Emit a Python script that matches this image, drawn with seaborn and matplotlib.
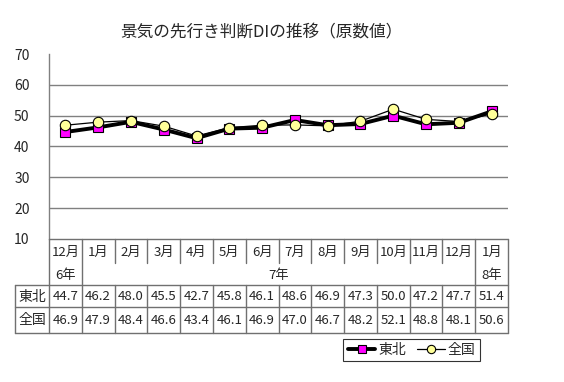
import matplotlib
matplotlib.use("Agg")
import matplotlib.pyplot as plt
import seaborn as sns
import pandas as pd
from matplotlib.lines import Line2D

months = ["12月", "1月", "2月", "3月", "4月", "5月", "6月", "7月", "8月", "9月", "10月", "11月", "12月", "1月"]
year_labels = ["6年", "7年", "8年"]
tohoku = [44.7, 46.2, 48.0, 45.5, 42.7, 45.8, 46.1, 48.6, 46.9, 47.3, 50.0, 47.2, 47.7, 51.4]
zenkoku = [46.9, 47.9, 48.4, 46.6, 43.4, 46.1, 46.9, 47.0, 46.7, 48.2, 52.1, 48.8, 48.1, 50.6]
series_names = ["東北", "全国"]
title = "景気の先行き判断DIの推移（原数値）"
yticks = [10, 20, 30, 40, 50, 60, 70]

sns.set_theme(style="white")
plt.rcParams["font.family"] = ["Noto Sans CJK JP", "DejaVu Sans"]

W, H = 564, 382
fig = plt.figure(figsize=(W / 100, H / 100), dpi=100)
fig.patch.set_facecolor("white")

def fx(px):
    return px / W

def fy(py):
    return 1 - py / H

L, R, T, B = 49, 508, 54, 239
ax = fig.add_axes([fx(L), fy(B), fx(R) - fx(L), fy(T) - fy(B)])

n = len(months)
df = pd.DataFrame({"idx": list(range(n)) * 2,
                   "value": tohoku + zenkoku,
                   "series": [series_names[0]] * n + [series_names[1]] * n})

sns.lineplot(data=df[df.series == series_names[0]], x="idx", y="value", ax=ax,
             color="black", linewidth=2.8, marker="s", markersize=7.5,
             markerfacecolor="#FF00FF", markeredgecolor="black", markeredgewidth=0.8,
             legend=False, zorder=3)
sns.lineplot(data=df[df.series == series_names[1]], x="idx", y="value", ax=ax,
             color="black", linewidth=0.9, marker="o", markersize=7.5,
             markerfacecolor="#FFFF99", markeredgecolor="black", markeredgewidth=0.8,
             legend=False, zorder=4)

ax.set_xlim(-0.5, n - 0.5)
ax.set_ylim(10, 70)
ax.set_yticks(yticks)
ax.set_yticklabels([str(v) for v in yticks], fontsize=10)
ax.tick_params(axis="y", length=0, pad=14)
ax.set_xticks([])
ax.set_xlabel("")
ax.set_ylabel("")
for v in yticks[1:-1]:
    ax.axhline(v, color="#808080", linewidth=1.0, zorder=1)
for s in ["top", "right", "bottom"]:
    ax.spines[s].set_visible(False)
ax.spines["left"].set_color("#808080")
ax.spines["left"].set_linewidth(1.0)

fig.text(fx(261), fy(33), title, ha="center", va="center", fontsize=12)

# Table
TL, TB = 15, 333
colw = (R - L) / n
axt = fig.add_axes([fx(TL), fy(TB), fx(R) - fx(TL), fy(B) - fy(TB)])
axt.set_xlim(-0.5 - (L - TL) / colw, n - 0.5)
axt.set_ylim(TB, B)
axt.axis("off")
lc = "#707070"
lw = 1.0
hx = -0.5 - (L - TL) / colw
axt.plot([-0.5, n - 0.5], [B, B], color=lc, lw=lw, clip_on=False)
for yy in [285, 307, TB]:
    axt.plot([hx, n - 0.5], [yy, yy], color=lc, lw=lw, clip_on=False)
for k in range(n + 1):
    xk = k - 0.5
    if k in (0, 1, n - 1, n):
        axt.plot([xk, xk], [B, TB], color=lc, lw=lw, clip_on=False)
    else:
        axt.plot([xk, xk], [B, 263], color=lc, lw=lw, clip_on=False)
        axt.plot([xk, xk], [285, TB], color=lc, lw=lw, clip_on=False)
axt.plot([hx, hx], [285, TB], color=lc, lw=lw, clip_on=False)

fs = 9.5
for i, m in enumerate(months):
    axt.text(i, 252, m, ha="center", va="center", fontsize=fs)
    axt.text(i, 297, f"{tohoku[i]:.1f}", ha="center", va="center", fontsize=fs)
    axt.text(i, 320, f"{zenkoku[i]:.1f}", ha="center", va="center", fontsize=fs)
axt.text(0, 275, year_labels[0], ha="center", va="center", fontsize=fs)
axt.text((n - 1) / 2, 275, year_labels[1], ha="center", va="center", fontsize=fs)
axt.text(n - 1, 275, year_labels[2], ha="center", va="center", fontsize=fs)
hc = (hx - 0.5) / 2
axt.text(hc, 297, series_names[0], ha="center", va="center", fontsize=10)
axt.text(hc, 320, series_names[1], ha="center", va="center", fontsize=10)

# Legend
handles = [
    Line2D([], [], color="black", linewidth=2.8, marker="s", markersize=6,
           markerfacecolor="#FF00FF", markeredgecolor="black", markeredgewidth=0.8),
    Line2D([], [], color="black", linewidth=0.9, marker="o", markersize=6,
           markerfacecolor="#FFFF99", markeredgecolor="black", markeredgewidth=0.8),
]
leg = fig.legend(handles, series_names, loc="center",
                 bbox_to_anchor=(fx(411.5), fy(350)), ncol=2, fontsize=10,
                 frameon=True, fancybox=False, edgecolor="black",
                 handlelength=2.0, handletextpad=0.2, columnspacing=0.8,
                 borderpad=0.3, borderaxespad=0)
leg.get_frame().set_linewidth(0.8)

fig.savefig("out.png", dpi=100, facecolor="white")
